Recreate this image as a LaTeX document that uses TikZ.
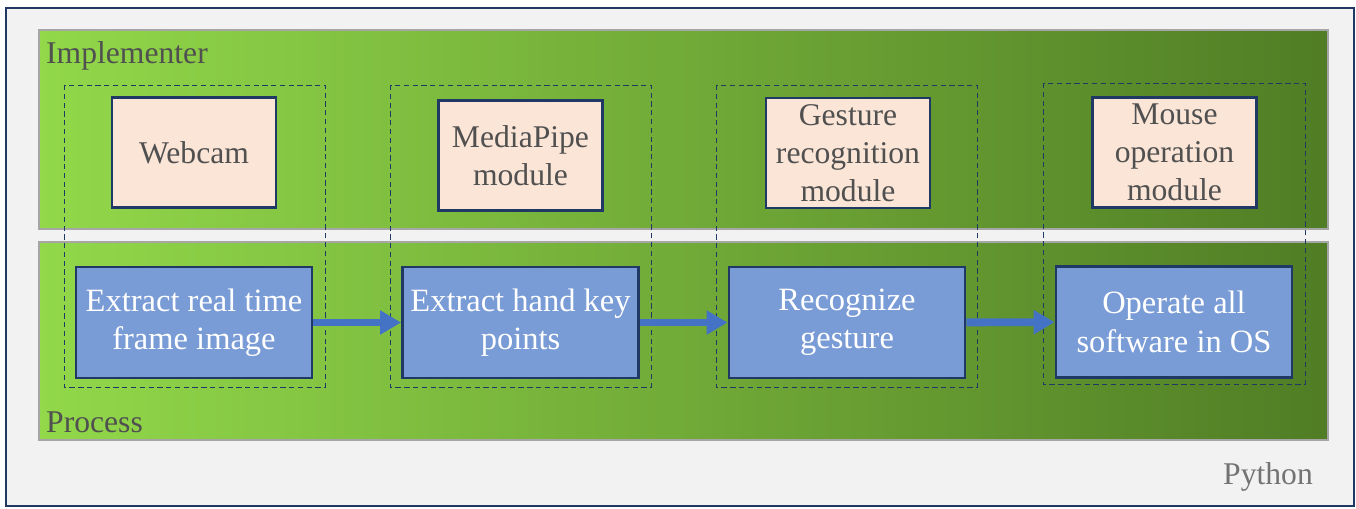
\documentclass[tikz,border=0pt]{standalone}
\usepackage{fontspec}
\setmainfont{Liberation Serif}
\usetikzlibrary{arrows.meta}
\definecolor{navy}{HTML}{1F3864}
\definecolor{peach}{HTML}{FBE5D6}
\definecolor{procblue}{HTML}{7A9CD6}
\definecolor{arrowblue}{HTML}{4472C4}
\definecolor{lightgreen}{HTML}{92D84A}
\definecolor{midgreen}{HTML}{78B43A}
\definecolor{darkgreen}{HTML}{507D25}
\definecolor{textgray}{HTML}{505050}
\begin{document}
\begin{tikzpicture}[x=0.02cm,y=-0.02cm]

      \tikzset{module/.style={draw=navy, line width=1.6pt, fill=peach, text=textgray, align=center, font=\fontsize{18}{21.5}\selectfont, minimum width=3.28cm, minimum height=2.2cm, inner sep=1pt},
               task/.style={draw=navy, line width=1.6pt, fill=procblue, text=white, align=center, font=\fontsize{18.5}{21.8}\selectfont, minimum width=4.72cm, minimum height=2.22cm, inner sep=1pt},
               band/.style={draw=black!35, line width=1.2pt, left color=lightgreen, middle color=midgreen, right color=darkgreen},
               group/.style={draw=navy, densely dashed, line width=0.5pt},
               flow/.style={arrowblue, line width=4.5pt, -{Triangle[length=0.42cm,width=0.46cm]}},
               label/.style={text=textgray, font=\fontsize{18}{21.5}\selectfont}}
      \useasboundingbox (0,0) rectangle (1356,508);
% Frame and bands
      	\draw[navy, line width=1.2pt, fill=black!5] (6,8) rectangle (1354,506);
      	\path[band] (39,30) rectangle (1328,229);
      	\path[band] (39,242) rectangle (1328,440);
      	\node[label, anchor=west] (impl) at (40,56) {Implementer};
      	\node[label, anchor=west] (proc) at (40,422) {Process};
      	\node[label, text=black!55] (python) at (1268,477) {Python};
% Groups
      	\draw[group] (64,85) rectangle (325,387);
      	\draw[group] (390,85) rectangle (651,387);
      	\draw[group] (716,85) rectangle (977,387);
      	\draw[group] (1043,83) rectangle (1305,384);
% Modules
      	\node[module] (m1) at (194,152.5) {Webcam};
      	\node[module] (m2) at (520.5,155.5) {MediaPipe\\module};
      	\node[module] (m3) at (848,153) {Gesture\\recognition\\module};
      	\node[module] (m4) at (1174.5,152.5) {Mouse\\operation\\module};
% Tasks
      	\node[task] (t1) at (194,322.5) {Extract real time\\frame image};
      	\node[task] (t2) at (520.5,322.5) {Extract hand key\\points};
      	\node[task] (t3) at (847,322.5) {Recognize\\gesture};
      	\node[task] (t4) at (1174,322) {Operate all\\software in OS};
%Edges
		\path (t1) edge[flow] (t2);
		\path (t2) edge[flow] (t3);
		\path (t3) edge[flow] (t4);

\end{tikzpicture}
\end{document}
